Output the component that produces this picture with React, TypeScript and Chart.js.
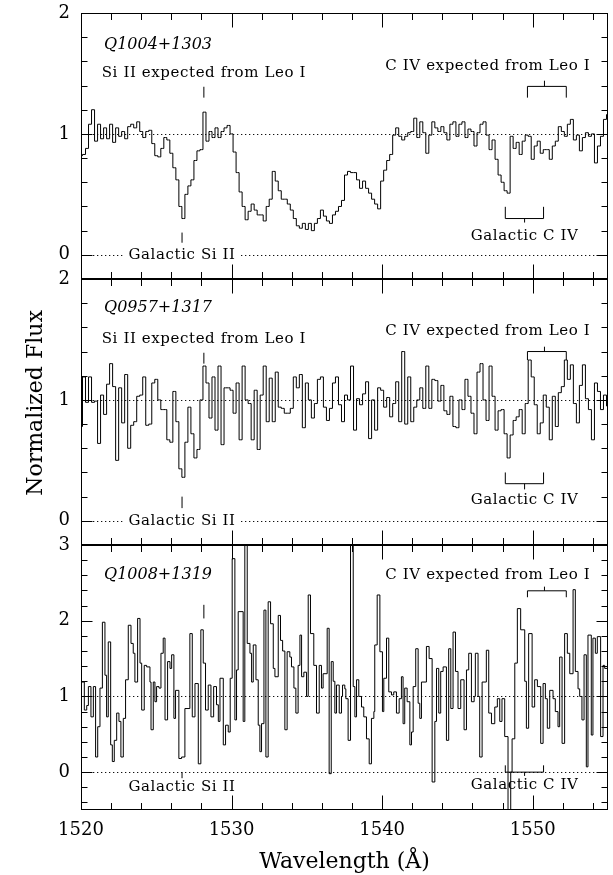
import React, { useEffect, useRef } from "react";
import { Chart, registerables } from "chart.js";

Chart.register(...registerables);

// ---------------- data ----------------
const WAVE_START = 1520;
const WAVE_STEP = 0.2;
const X_MIN = 1520;
const X_MAX = 1555;
const X_TICK_LABELS = [1520, 1530, 1540, 1550];

const FLUX_Q1004 = [
  0.82, 0.83, 0.88, 1.08, 1.20, 0.94, 1.08, 0.96, 1.05, 0.96,
  1.08, 0.93, 1.05, 0.98, 1.02, 0.96, 1.06, 1.08, 1.05, 1.10,
  1.02, 0.97, 1.02, 1.03, 0.92, 0.82, 0.81, 0.88, 0.97, 0.95,
  0.84, 0.72, 0.62, 0.40, 0.30, 0.50, 0.57, 0.62, 0.78, 0.86,
  0.87, 1.18, 0.94, 1.02, 0.97, 1.05, 0.97, 1.02, 1.05, 1.07,
  1.00, 0.85, 0.68, 0.52, 0.40, 0.29, 0.36, 0.42, 0.37, 0.33,
  0.33, 0.28, 0.40, 0.46, 0.69, 0.61, 0.53, 0.46, 0.46, 0.42,
  0.37, 0.30, 0.24, 0.22, 0.26, 0.21, 0.26, 0.20, 0.26, 0.30,
  0.37, 0.32, 0.28, 0.26, 0.33, 0.36, 0.40, 0.45, 0.66, 0.69,
  0.68, 0.68, 0.62, 0.55, 0.61, 0.55, 0.51, 0.46, 0.42, 0.38,
  0.61, 0.70, 0.78, 0.83, 0.99, 1.05, 0.98, 0.95, 0.98, 1.01,
  1.02, 1.13, 0.97, 1.10, 1.01, 0.84, 0.99, 1.10, 1.05, 1.02,
  1.06, 1.01, 0.95, 1.08, 1.10, 0.98, 1.08, 1.10, 0.97, 1.04,
  1.02, 0.90, 1.01, 1.08, 1.10, 0.99, 0.87, 0.95, 0.79, 0.66,
  0.60, 0.53, 0.51, 0.98, 0.88, 0.93, 0.83, 0.94, 0.99, 0.98,
  0.79, 0.90, 0.94, 0.84, 0.87, 0.87, 0.79, 0.90, 0.94, 1.06,
  1.02, 0.98, 1.08, 1.12, 0.95, 0.99, 0.86, 0.97, 1.01, 0.98,
  1.00, 0.76, 0.90, 0.98, 1.12, 1.16,
];

const FLUX_Q0957 = [
  0.78, 1.19, 0.98, 1.19, 0.98, 0.99, 0.64, 1.04, 0.88, 1.13,
  1.30, 1.11, 0.50, 1.10, 0.81, 1.21, 0.60, 0.79, 0.82, 1.03,
  1.04, 1.19, 0.79, 0.80, 1.14, 1.17, 1.00, 0.92, 0.92, 0.67,
  0.65, 1.07, 0.82, 0.43, 0.36, 0.65, 0.94, 0.72, 0.52, 0.59,
  1.00, 1.28, 1.14, 0.85, 1.19, 0.75, 1.28, 0.63, 1.10, 1.10,
  1.08, 0.89, 1.14, 0.67, 1.28, 1.00, 0.97, 0.67, 1.08, 0.59,
  1.04, 1.28, 0.82, 1.18, 0.82, 1.23, 0.94, 0.93, 0.89, 0.89,
  0.93, 1.19, 1.10, 1.21, 0.77, 1.14, 1.00, 0.85, 0.97, 1.17,
  1.19, 0.94, 0.83, 0.93, 1.14, 1.19, 0.96, 0.82, 1.04, 1.00,
  1.28, 0.75, 1.01, 0.96, 1.05, 1.15, 0.68, 1.00, 0.75, 1.10,
  1.08, 0.94, 1.02, 0.86, 0.97, 1.15, 0.82, 1.40, 0.80, 1.19,
  0.82, 0.94, 1.00, 1.10, 0.93, 1.28, 0.93, 1.17, 1.16, 0.99,
  1.12, 0.91, 0.88, 1.03, 0.78, 0.77, 1.00, 0.92, 1.17, 1.03,
  0.89, 0.72, 1.23, 1.30, 1.00, 0.83, 1.28, 1.03, 0.75, 0.91,
  0.92, 0.72, 0.52, 0.71, 0.83, 0.86, 0.92, 0.72, 0.97, 1.33,
  1.19, 0.96, 0.72, 0.81, 1.04, 0.94, 0.67, 1.03, 0.78, 1.06,
  1.11, 1.33, 1.17, 1.29, 0.97, 0.81, 1.12, 1.29, 1.01, 0.92,
  0.67, 1.14, 1.07, 0.92, 1.04, 0.95,
];

// Q1008+1319: bin start wavelengths and fluxes
const WAVE_Q1008 = [
  1520.00, 1520.22, 1520.38, 1520.49, 1520.66, 1520.82, 1520.97, 1521.11, 1521.26, 1521.42,
  1521.59, 1521.70, 1521.81, 1521.97, 1522.08, 1522.21, 1522.37, 1522.52, 1522.65, 1522.81,
  1522.96, 1523.14, 1523.32, 1523.47, 1523.58, 1523.76, 1523.92, 1524.03, 1524.20, 1524.36,
  1524.58, 1524.65, 1524.80, 1524.91, 1525.02, 1525.18, 1525.31, 1525.46, 1525.58, 1525.75,
  1525.91, 1526.02, 1526.17, 1526.28, 1526.50, 1526.68, 1526.90, 1527.23, 1527.39, 1527.57,
  1527.79, 1527.96, 1528.12, 1528.27, 1528.45, 1528.63, 1528.81, 1529.00, 1529.12, 1529.23,
  1529.45, 1529.60, 1529.78, 1529.91, 1530.04, 1530.22, 1530.33, 1530.44, 1530.77, 1530.88,
  1531.04, 1531.22, 1531.33, 1531.44, 1531.62, 1531.77, 1531.88, 1531.99, 1532.15, 1532.28,
  1532.43, 1532.59, 1532.77, 1532.88, 1533.10, 1533.25, 1533.39, 1533.54, 1533.69, 1533.87,
  1533.98, 1534.14, 1534.27, 1534.42, 1534.54, 1534.65, 1534.80, 1534.98, 1535.09, 1535.24,
  1535.46, 1535.64, 1535.82, 1535.97, 1536.08, 1536.35, 1536.48, 1536.62, 1536.75, 1536.86,
  1536.97, 1537.15, 1537.30, 1537.37, 1537.52, 1537.59, 1537.74, 1537.90, 1538.08, 1538.19,
  1538.30, 1538.45, 1538.63, 1538.78, 1538.96, 1539.14, 1539.29, 1539.45, 1539.51, 1539.67,
  1539.85, 1540.02, 1540.11, 1540.29, 1540.44, 1540.62, 1540.77, 1540.95, 1541.13, 1541.28,
  1541.39, 1541.50, 1541.66, 1541.84, 1541.95, 1542.06, 1542.23, 1542.39, 1542.50, 1542.61,
  1542.94, 1543.12, 1543.32, 1543.50, 1543.61, 1543.76, 1543.89, 1544.05, 1544.27, 1544.42,
  1544.56, 1544.71, 1544.87, 1545.04, 1545.22, 1545.44, 1545.60, 1545.75, 1545.93, 1546.11,
  1546.19, 1546.37, 1546.48, 1546.64, 1546.92, 1547.08, 1547.26, 1547.48, 1547.65, 1547.81,
  1547.96, 1548.14, 1548.36, 1548.54, 1548.63, 1548.81, 1548.98, 1549.20, 1549.47, 1549.58,
  1549.73, 1549.96, 1550.13, 1550.31, 1550.53, 1550.69, 1550.84, 1550.97, 1551.13, 1551.35,
  1551.50, 1551.68, 1551.79, 1551.95, 1552.12, 1552.30, 1552.46, 1552.68, 1552.83, 1553.01,
  1553.12, 1553.27, 1553.41, 1553.56, 1553.67, 1553.89, 1554.00, 1554.16, 1554.29, 1554.51,
  1554.67, 1554.78, 1555.00,
];
const FLUX_Q1008 = [
  1.19, 0.82, 0.88, 1.13, 0.73, 1.13, 0.20, 0.60, 1.11, 1.98,
  1.28, 0.73, 1.72, 0.36, 0.14, 0.42, 0.78, 0.67, 0.20, 0.71,
  1.22, 1.94, 1.70, 1.57, 1.19, 2.03, 1.44, 0.82, 1.41, 1.39,
  1.19, 0.56, 1.19, 0.93, 1.13, 1.11, 1.57, 1.77, 0.69, 1.46,
  1.37, 1.55, 0.71, 1.08, 0.18, 0.20, 0.84, 1.83, 0.73, 1.17,
  0.11, 1.88, 1.44, 0.82, 1.15, 0.73, 1.13, 0.89, 0.67, 1.24,
  0.36, 0.62, 0.53, 1.24, 2.82, 0.69, 1.35, 2.12, 0.67, 3.50,
  1.70, 1.57, 1.19, 1.68, 1.22, 0.62, 0.27, 0.64, 2.14, 0.20,
  2.25, 1.96, 1.37, 1.26, 2.07, 1.74, 1.60, 0.56, 1.59, 1.52,
  1.39, 1.11, 0.78, 1.41, 1.81, 1.26, 1.32, 1.00, 2.34, 1.83,
  1.41, 0.78, 1.41, 1.11, 1.30, 1.90, -0.02, 1.46, 1.20, 0.78,
  1.15, 0.78, 1.00, 1.15, 1.10, 0.97, 0.42, 3.50, 1.13, 0.73,
  1.22, 1.00, 0.86, 0.73, 0.44, 0.11, 0.71, 0.80, 1.68, 2.34,
  1.59, 0.80, 1.24, 1.77, 1.06, 1.02, 1.06, 0.78, 0.97, 1.26,
  0.64, 1.11, 0.93, 0.36, 0.53, 1.13, 1.63, 0.91, 0.71, 1.19,
  1.66, 1.50, -0.13, 0.67, 1.37, 0.78, 1.33, 1.39, 0.42, 1.63,
  0.84, 1.85, 1.33, 0.84, 1.22, 0.56, 1.35, 1.57, 0.93, 1.00,
  1.57, 1.00, 0.20, 1.19, 1.61, 0.78, 0.64, 0.86, 0.97, 0.67,
  0.97, 0.47, -0.60, 0.00, 0.44, 1.44, 2.16, 1.88, 1.20, 0.58,
  1.83, 0.86, 1.22, 1.13, 0.38, 1.17, 0.97, 0.58, 1.08, 0.97,
  0.80, 0.60, 1.52, 0.38, 1.83, 1.57, 1.30, 2.41, 1.33, 1.10,
  1.00, 0.69, 1.55, 0.07, 1.81, 0.49, 1.77, 1.57, 1.79, 0.47,
  1.41, 1.37, 1.37,
];

const QSO_NAMES = ["Q1004+1303", "Q0957+1317", "Q1008+1319"];
const Y_MIN = [-0.2, -0.2, -0.5];
const Y_MAX = [2, 2, 3];

// line identifications (Å)
const LEO_SI = 1528.16;
const GAL_SI = 1526.71;
const LEO_CIV = [1549.65, 1552.23];
const LEO_CIV_MID = 1550.78;
const GAL_CIV = [1548.18, 1550.72];
const GAL_CIV_MID = 1549.46;
const CIV_TEXT_CENTER = 1547.02;
const NAME_LEFT = 1521.53;

// ---------------- layout / styling ----------------
const LAYOUT = [
  { top: 0, height: 285, padTop: 13, padBottom: 6, showX: false },
  { top: 268, height: 285, padTop: 11, padBottom: 8, showX: false },
  { top: 535, height: 340, padTop: 10, padBottom: 0, showX: true },
];

// annotation heights in data units of each panel
const MARKS = [
  { nameY: 1.74, siText: 1.5, siTick: [1.3, 1.39], civText: 1.56, civBr: [1.393, 1.3, 1.44],
    galSiTick: [0.1, 0.184], galSiText: 0, galSiBg: true, galCivBr: [0.3, 0.397, 0.267], galCivText: 0.155 },
  { nameY: 1.76, siText: 1.5, siTick: [1.3, 1.39], civText: 1.566, civBr: [1.4, 1.33, 1.44],
    galSiTick: [0.105, 0.2], galSiText: 0, galSiBg: true, galCivBr: [0.307, 0.4, 0.26], galCivText: 0.17 },
  { nameY: 2.6, siText: null, siTick: [2.03, 2.21], civText: 2.6, civBr: [2.395, 2.31, 2.45],
    galSiTick: [-0.08, 0.0], galSiText: -0.2, galSiBg: false, galCivBr: [0.0, 0.09, -0.05], galCivText: -0.17 },
];

const SERIF = '"DejaVu Serif", "Liberation Serif", serif';
const TXT_FONT = `15px ${SERIF}`;
const NAME_FONT = `italic 16px ${SERIF}`;
const TICK_FONT = { family: SERIF, size: 18 };
const TITLE_FONT = { family: SERIF, size: 22 };

function seg(ctx: CanvasRenderingContext2D, x1: number, y1: number, x2: number, y2: number) {
  ctx.beginPath();
  ctx.moveTo(x1, y1);
  ctx.lineTo(x2, y2);
  ctx.stroke();
}

function text(ctx: CanvasRenderingContext2D, s: string, x: number, y: number, align: CanvasTextAlign, font: string, spacing: string) {
  ctx.font = font;
  (ctx as any).letterSpacing = spacing;
  ctx.textAlign = align;
  ctx.textBaseline = "middle";
  ctx.fillStyle = "#000";
  ctx.fillText(s, x, y);
  (ctx as any).letterSpacing = "0px";
}

function makeDecor(idx: number) {
  const m = MARKS[idx];
  return {
    id: "decor" + idx,
    beforeDatasetsDraw(chart: any) {
      const { ctx, chartArea: a, scales } = chart;
      const x = scales.x;
      const y = scales.y;
      ctx.save();
      ctx.strokeStyle = "#111";
      ctx.lineWidth = 1;
      ctx.setLineDash([1.3, 2.7]);
      for (const v of [0, 1]) {
        const py = Math.round(y.getPixelForValue(v)) + 0.5;
        seg(ctx, a.left, py, a.right, py);
      }
      ctx.setLineDash([]);
      if (m.galSiBg) {
        ctx.font = TXT_FONT;
        (ctx as any).letterSpacing = "0.6px";
        const w = ctx.measureText("Galactic Si II").width;
        (ctx as any).letterSpacing = "0px";
        const cx = x.getPixelForValue(GAL_SI);
        const cy = y.getPixelForValue(m.galSiText);
        ctx.fillStyle = "#fff";
        ctx.fillRect(cx - w / 2 - 5, cy - 8, w + 10, 16);
      }
      ctx.restore();
    },
    afterDatasetsDraw(chart: any) {
      const { ctx, chartArea: a, scales } = chart;
      const x = scales.x;
      const y = scales.y;
      const X = (v: number) => x.getPixelForValue(v);
      const Y = (v: number) => y.getPixelForValue(v);
      ctx.save();
      ctx.strokeStyle = "#000";
      ctx.lineWidth = 1;
      // frame
      const L = Math.round(a.left) + 0.5;
      const R = Math.round(a.right) - 0.5;
      const T = Math.round(a.top) + 0.5;
      const B = Math.round(a.bottom) - 0.5;
      ctx.strokeRect(L, T, R - L, B - T);
      // x ticks
      for (let w = 1522; w < X_MAX; w += 2) {
        const len = w % 10 === 0 ? 14 : 6.5;
        const px = Math.round(X(w)) + 0.5;
        seg(ctx, px, T, px, T + len);
        seg(ctx, px, B, px, B - len);
      }
      // y ticks
      const k0 = Math.ceil(Y_MIN[idx] / 0.2 - 1e-6);
      const k1 = Math.floor(Y_MAX[idx] / 0.2 + 1e-6);
      for (let k = k0; k <= k1; k++) {
        const v = k * 0.2;
        const major = Math.abs(v - Math.round(v)) < 1e-6;
        const len = major ? 11 : 6;
        const py = Math.round(Y(v)) + 0.5;
        seg(ctx, L, py, L + len, py);
        seg(ctx, R, py, R - len, py);
      }
      // Si II marks
      seg(ctx, X(LEO_SI), Y(m.siTick[0]), X(LEO_SI), Y(m.siTick[1]));
      seg(ctx, X(GAL_SI), Y(m.galSiTick[0]), X(GAL_SI), Y(m.galSiTick[1]));
      // C IV brackets
      const br = (l: number[], mid: number, h: number[]) => {
        seg(ctx, X(l[0]), Y(h[0]), X(l[1]), Y(h[0]));
        seg(ctx, X(l[0]), Y(h[0]), X(l[0]), Y(h[1]));
        seg(ctx, X(l[1]), Y(h[0]), X(l[1]), Y(h[1]));
        seg(ctx, X(mid), Y(h[0]), X(mid), Y(h[2]));
      };
      br(LEO_CIV, LEO_CIV_MID, m.civBr);
      br(GAL_CIV, GAL_CIV_MID, m.galCivBr);
      // texts
      text(ctx, QSO_NAMES[idx], X(NAME_LEFT), Y(m.nameY), "left", NAME_FONT, "0px");
      if (m.siText !== null) text(ctx, "Si II expected from Leo I", X(LEO_SI), Y(m.siText as number), "center", TXT_FONT, "0.6px");
      text(ctx, "C IV expected from Leo I", X(CIV_TEXT_CENTER), Y(m.civText), "center", TXT_FONT, "0.6px");
      text(ctx, "Galactic Si II", X(GAL_SI), Y(m.galSiText), "center", TXT_FONT, "0.6px");
      text(ctx, "Galactic C IV", X(GAL_CIV_MID), Y(m.galCivText), "center", TXT_FONT, "0.6px");
      ctx.restore();
    },
    afterDraw(chart: any) {
      if (idx !== 1) return;
      const { ctx } = chart;
      ctx.save();
      ctx.translate(36, 403 - LAYOUT[1].top);
      ctx.rotate(-Math.PI / 2);
      ctx.font = `22px ${SERIF}`;
      ctx.textAlign = "center";
      ctx.textBaseline = "middle";
      ctx.fillStyle = "#000";
      ctx.fillText("Normalized Flux", 0, 0);
      ctx.restore();
    },
  };
}

function points(idx: number) {
  if (idx === 0) return FLUX_Q1004.map((f, i) => ({ x: WAVE_START + WAVE_STEP * i, y: f }));
  if (idx === 1) return FLUX_Q0957.map((f, i) => ({ x: WAVE_START + WAVE_STEP * i, y: f }));
  const n = Math.min(WAVE_Q1008.length, FLUX_Q1008.length);
  const out: { x: number; y: number }[] = [];
  for (let i = 0; i < n; i++) out.push({ x: WAVE_Q1008[i], y: FLUX_Q1008[i] });
  return out;
}

function noPad(s: any) {
  s.paddingTop = 0;
  s.paddingBottom = 0;
  s.paddingLeft = 0;
  s.paddingRight = 0;
}

function buildConfig(idx: number): any {
  const lay = LAYOUT[idx];
  const xScale: any = {
    type: "linear",
    min: X_MIN,
    max: X_MAX,
    display: lay.showX,
    grid: { display: false, drawTicks: false },
    border: { display: false },
    ticks: {
      stepSize: 10,
      includeBounds: false,
      autoSkip: false,
      maxRotation: 0,
      padding: 10,
      color: "#000",
      font: TICK_FONT,
      callback: (v: number) => (X_TICK_LABELS.includes(v) ? String(v) : ""),
    },
    title: {
      display: lay.showX,
      text: "Wavelength (Å)",
      color: "#000",
      font: TITLE_FONT,
      padding: { top: 0, bottom: 0 },
    },
    afterFit: (s: any) => {
      noPad(s);
      s.height = lay.showX ? 65 : 0;
    },
  };
  return {
    type: "line",
    data: {
      datasets: [
        {
          data: points(idx),
          borderColor: "#000",
          borderWidth: 1,
          pointRadius: 0,
          fill: false,
          stepped: idx === 2 ? "before" : "middle",
        },
      ],
    },
    options: {
      animation: false,
      responsive: false,
      events: [],
      layout: { padding: { left: 0, right: 5, top: lay.padTop, bottom: lay.padBottom } },
      plugins: { legend: { display: false }, tooltip: { enabled: false }, title: { display: false } },
      scales: {
        x: xScale,
        y: {
          type: "linear",
          min: Y_MIN[idx],
          max: Y_MAX[idx],
          grid: { display: false, drawTicks: false },
          border: { display: false },
          ticks: { stepSize: 1, includeBounds: false, padding: 11, color: "#000", font: TICK_FONT },
          afterFit: (s: any) => {
            noPad(s);
            s.width = 81;
          },
        },
      },
    },
    plugins: [makeDecor(idx)],
  };
}

export default function App() {
  const r0 = useRef<HTMLCanvasElement>(null);
  const r1 = useRef<HTMLCanvasElement>(null);
  const r2 = useRef<HTMLCanvasElement>(null);
  const refs = [r0, r1, r2];

  useEffect(() => {
    const charts = refs.map((r, i) => new Chart(r.current as HTMLCanvasElement, buildConfig(i)));
    return () => charts.forEach((c) => c.destroy());
  }, []);

  return (
    <div style={{ position: "absolute", left: 0, top: 0, width: 613, height: 875, background: "#fff" }}>
      {LAYOUT.map((l, i) => (
        <canvas
          key={i}
          ref={refs[i]}
          width={613}
          height={l.height}
          style={{ position: "absolute", left: 0, top: l.top, width: 613, height: l.height }}
        />
      ))}
    </div>
  );
}
